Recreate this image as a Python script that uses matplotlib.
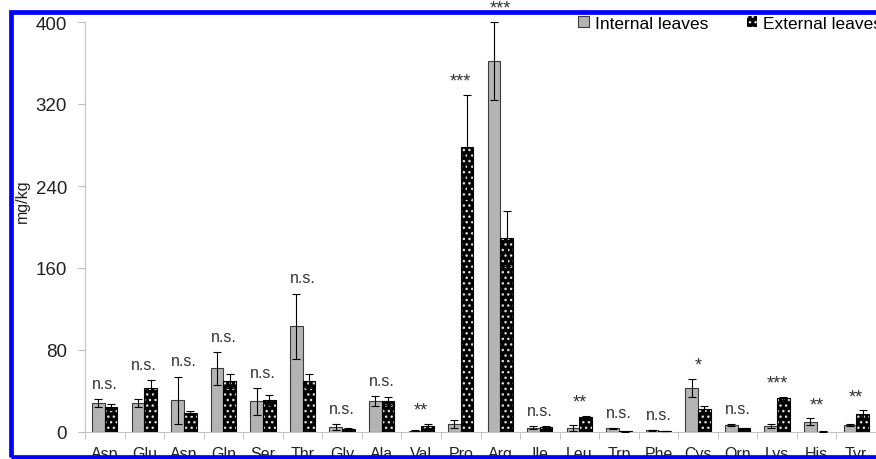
import numpy as np
import matplotlib
matplotlib.use("Agg")
import matplotlib.pyplot as plt
from matplotlib.patches import Rectangle

plt.rcParams["font.family"] = ["Liberation Sans", "DejaVu Sans"]
plt.rcParams["hatch.linewidth"] = 1.0

amino = ["Asp", "Glu", "Asn", "Gln", "Ser", "Thr", "Gly", "Ala", "Val", "Pro",
         "Arg", "Ile", "Leu", "Trp", "Phe", "Cys", "Orn", "Lys", "His", "Tyr"]
internal = [28, 28, 31, 62, 30, 103, 5, 30, 1, 8,
            362, 4, 4, 3.5, 1.5, 43, 7, 5.5, 10, 7]
internal_err = [4, 4, 23, 16, 13, 32, 3, 5, 0.5, 4,
                38, 1.5, 3, 0.5, 0.5, 9, 1, 2, 3.5, 1]
external = [24, 43, 18.5, 50, 31, 50, 2.5, 30, 6, 278,
            189, 5, 15, 0.5, 1, 22.5, 3.5, 33, 0.3, 17.5]
external_err = [3, 8, 2, 7, 5, 7, 1, 4, 2, 51,
                27, 1, 1, 0.3, 0.3, 3, 0.5, 1.5, 0.2, 3.5]
signif = ["n.s.", "n.s.", "n.s.", "n.s.", "n.s.", "n.s.", "n.s.", "n.s.", "**", "***",
          "***", "n.s.", "**", "n.s.", "n.s.", "*", "n.s.", "***", "**", "**"]

fig = plt.figure(figsize=(8.76, 4.6), dpi=100)
ax = fig.add_axes([85/876, 27/460, 791/876, 410/460])

x = np.arange(len(amino))
w = 0.32
ekw = dict(ecolor="black", elinewidth=0.8, capsize=3, capthick=0.8)

ax.bar(x - w/2, internal, w, color="#b4b4b4", edgecolor="#3a3a3a", linewidth=0.8,
       yerr=internal_err, error_kw=ekw, label="Internal leaves", zorder=2)
ax.bar(x + w/2, external, w, color="black", edgecolor="#dddddd", linewidth=0,
       hatch="...", zorder=2)
ax.bar(x + w/2, external, w, fill=False, edgecolor="black", linewidth=0.8,
       yerr=external_err, error_kw=ekw, zorder=3)
# legend proxy for the dotted black bars
ax.bar([0], [0], 0, color="black", edgecolor="#dddddd", hatch="...", linewidth=0,
       label="External leaves")

tops = np.maximum(np.array(internal) + internal_err, np.array(external) + external_err)
for i, s in enumerate(signif):
    star = s.startswith("*")
    ax.text(x[i], tops[i] + (5 if star else 8), s, ha="center", va="bottom",
            fontsize=13 if star else 11.5, color="#333333", clip_on=False, zorder=4)

ax.set_ylim(0, 400)
ax.set_yticks(np.arange(0, 401, 80))
ax.set_xlim(-0.5, 19.13)
ax.set_xticks(x)
ax.set_xticklabels(amino)
ax.set_xticks(np.arange(-0.5, 20, 1), minor=True)
ax.tick_params(axis="x", which="major", length=0, pad=10, labelsize=11.5, labelcolor="#222222")
ax.tick_params(axis="x", which="minor", length=5, color="#bbbbbb")
ax.tick_params(axis="y", length=5, color="#bbbbbb", labelsize=13.5, labelcolor="#222222", pad=8)
for side in ["top", "right"]:
    ax.spines[side].set_visible(False)
for side in ["left", "bottom"]:
    ax.spines[side].set_color("#c4c4c4")

fig.text(22/876, 1 - 201/460, "mg/kg", rotation=90, ha="center", va="center",
         fontsize=11.5, color="#222222")

ax.legend(ncol=2, frameon=False, loc="upper right", bbox_to_anchor=(882/876, 1 - 17/460),
          bbox_transform=fig.transFigure, fontsize=12.5, handlelength=0.6, handleheight=0.6,
          handletextpad=0.35, columnspacing=2.2, borderpad=0, borderaxespad=0)

# blue frame around the picture
fig.add_artist(Rectangle((10.5/876, 2.5/460), 880/876, (457.5 - 13)/460,
                         transform=fig.transFigure, fill=False, edgecolor="#0000ff",
                         linewidth=3.4, zorder=100, clip_on=False))

fig.savefig("out.png", dpi=100)
